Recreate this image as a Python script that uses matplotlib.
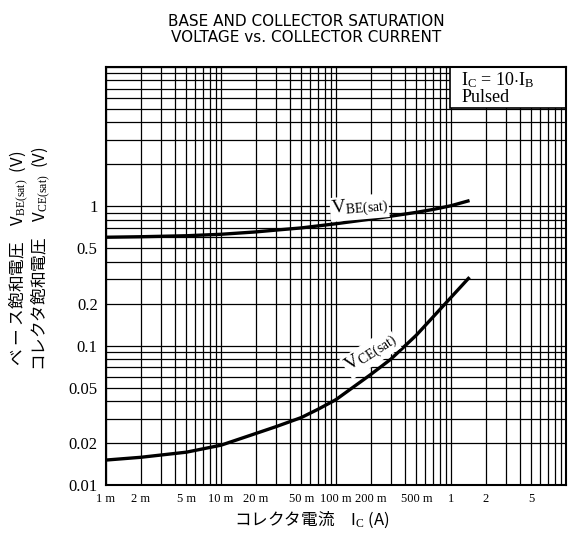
import matplotlib
matplotlib.use('Agg')
import matplotlib.pyplot as plt
from matplotlib.patches import Rectangle
from matplotlib.ticker import FixedLocator, LogLocator, NullFormatter

plt.rcParams['mathtext.fontset'] = 'custom'
plt.rcParams['mathtext.rm'] = 'Liberation Serif'
plt.rcParams['mathtext.it'] = 'Liberation Serif:italic'

# collector current (A) and saturation voltages (V)
ic_be = [0.001, 0.002, 0.005, 0.01, 0.02, 0.03, 0.05, 0.1, 0.2, 0.3, 0.5, 0.7, 1.0, 1.45]
vbe_sat = [0.60, 0.605, 0.615, 0.63, 0.655, 0.675, 0.70, 0.75, 0.81, 0.85, 0.905, 0.95, 1.01, 1.1]

ic_ce = [0.001, 0.002, 0.005, 0.01, 0.02, 0.03, 0.05, 0.07, 0.1, 0.2, 0.3, 0.5, 0.7, 1.0, 1.45]
vce_sat = [0.0151, 0.0158, 0.0172, 0.0193, 0.0234, 0.0262, 0.0305, 0.035, 0.041,
           0.062, 0.080, 0.119, 0.161, 0.222, 0.31]

x_ticks = [0.001, 0.002, 0.005, 0.01, 0.02, 0.05, 0.1, 0.2, 0.5, 1, 2, 5]
x_labels = ['1 m', '2 m', '5 m', '10 m', '20 m', '50 m', '100 m', '200 m', '500 m', '1', '2', '5']
y_ticks = [0.01, 0.02, 0.05, 0.1, 0.2, 0.5, 1]
y_labels = ['0.01', '0.02', '0.05', '0.1', '0.2', '0.5', '1']

serif = 'Liberation Serif'
jp = ['Noto Sans CJK JP', 'DejaVu Sans']

fig = plt.figure(figsize=(5.72, 5.50), dpi=100)
ax = fig.add_axes([0.1853, 0.1182, 0.8042, 0.7600])

ax.set_xscale('log')
ax.set_yscale('log')
ax.set_xlim(0.001, 10)
ax.set_ylim(0.01, 10)

ax.plot(ic_be, vbe_sat, color='black', lw=2.4, solid_capstyle='butt', zorder=4)
ax.plot(ic_ce, vce_sat, color='black', lw=2.4, solid_capstyle='butt', zorder=4)

ax.xaxis.set_major_locator(FixedLocator(x_ticks))
ax.set_xticklabels(x_labels, fontfamily=serif, fontsize=9)
ax.yaxis.set_major_locator(FixedLocator(y_ticks))
ax.set_yticklabels(y_labels, fontfamily=serif, fontsize=12)
ax.xaxis.set_minor_locator(LogLocator(base=10, subs=range(1, 10), numticks=20))
ax.yaxis.set_minor_locator(LogLocator(base=10, subs=range(1, 10), numticks=20))
ax.xaxis.set_minor_formatter(NullFormatter())
ax.yaxis.set_minor_formatter(NullFormatter())
ax.tick_params(which='both', length=0)
ax.tick_params(axis='x', pad=6)
ax.tick_params(axis='y', pad=6)
ax.grid(True, which='both', color='black', lw=0.9)
for s in ax.spines.values():
    s.set_linewidth(1.5)
    s.set_zorder(7)

# curve labels
ax.text(0.16, 0.98, r'V$_{\mathrm{BE(sat)}}$', fontfamily=serif, fontsize=14,
        ha='center', va='center', rotation=5, zorder=5,
        bbox=dict(facecolor='white', edgecolor='none', pad=0.5))
ax.text(0.2, 0.088, r'V$_{\mathrm{CE(sat)}}$', fontfamily=serif, fontsize=14,
        ha='center', va='center', rotation=33, zorder=5,
        bbox=dict(facecolor='white', edgecolor='none', pad=0.5))

# condition box
ax.add_patch(Rectangle((0.748, 0.902), 0.252, 0.098, transform=ax.transAxes,
                       facecolor='white', edgecolor='black', lw=1.2, zorder=6))
ax.text(0.772, 0.968, 'I$_{\\mathrm{C}}$ = 10$\\cdot$I$_{\\mathrm{B}}$', transform=ax.transAxes,
        ha='left', va='center', fontfamily=serif, fontsize=13, zorder=7)
ax.text(0.772, 0.926, 'Pulsed', transform=ax.transAxes,
        ha='left', va='center', fontfamily=serif, fontsize=13, zorder=7)

fig.text(0.535, 0.975, 'BASE AND COLLECTOR SATURATION\nVOLTAGE vs. COLLECTOR CURRENT',
         ha='center', va='top', fontsize=11, linespacing=1.1,
         fontfamily=['Liberation Sans Narrow', 'DejaVu Sans'])

fig.text(0.545, 0.055, 'コレクタ電流　I$_{\\mathrm{C}}$ (A)', ha='center', va='center',
         fontsize=12, fontfamily=jp)

fig.text(0.033, 0.53, 'ベ ー ス飽和電圧　V$_{\\mathrm{BE(sat)}}$  (V)', rotation=90,
         ha='center', va='center', fontsize=12, fontfamily=jp)
fig.text(0.072, 0.53, 'コレクタ飽和電圧　V$_{\\mathrm{CE(sat)}}$  (V)', rotation=90,
         ha='center', va='center', fontsize=12, fontfamily=jp)

fig.savefig('out.png', dpi=100, facecolor='white')
